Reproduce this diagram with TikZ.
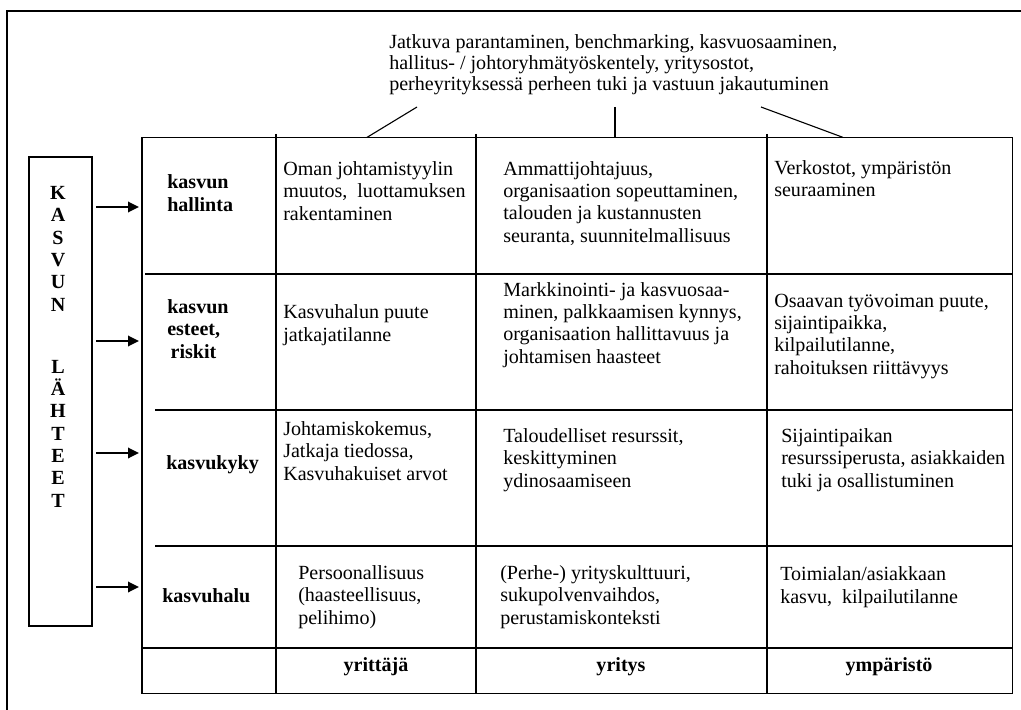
\documentclass[tikz,border=0pt]{standalone}
\usepackage{fontspec}
\setmainfont{Liberation Serif}
\usetikzlibrary{arrows.meta}

\begin{document}
\begin{tikzpicture}[
	x=0.254mm, y=-0.254mm,
	viiva/.style     = {line width=0.8pt, black},
	nuoli/.style     = {line width=1.8pt, -{Triangle[length=2.8mm, width=2.6mm]},
		shorten <=1mm, shorten >=0.6mm},
	lahde/.style     = {rectangle, draw, line width=0.8pt, minimum width=16mm,
		minimum height=119.1mm, inner sep=0},
	taulu/.style     = {rectangle, draw, line width=0.8pt, minimum width=221mm,
		minimum height=141mm, inner sep=0},
	kirjaimet/.style = {anchor=base, align=center, inner sep=0,
		font=\fontsize{14.5}{16.1}\selectfont\bfseries},
	huomio/.style    = {anchor=base west, align=left, inner sep=0,
		font=\fontsize{14.5}{15.2}\selectfont},
	solu/.style      = {anchor=base west, align=left, inner sep=0,
		font=\fontsize{14.5}{16.1}\selectfont},
	rivi/.style      = {solu, font=\fontsize{14.5}{16.1}\selectfont\bfseries},
	sarake/.style    = {anchor=base, inner sep=0, font=\fontsize{14.5}{16.1}\selectfont\bfseries}
	]
	\useasboundingbox (0,0) rectangle (1021,710);
	
	% ===================== Frame =====================
	\draw[viiva] (1021,11) -- (7,11) -- (7,710);
	
	% ===================== Kasvun lähteet =====================
	% (base of a node = baseline of its last line)
	\node[lahde] (lahteet) at (60.5,391.5) {};
	\node[kirjaimet] (sana1) at (58,311) {K\\A\\S\\V\\U\\N};
	\node[kirjaimet] (sana2) at (58,507) {L\\Ä\\H\\T\\E\\E\\T};
	
	% ===================== Table =====================
	\node[taulu] (taulu) at (577,415.5) {};
	\foreach \x in {276,476,767}
		\draw[viiva] (\x,134) -- (\x,693);
	\foreach \y/\alku in {274/145, 410/155, 546/155, 648/142}
		\draw[viiva] (\alku,\y) -- (1012,\y);
	
	\foreach \y in {207,341,453,587}
		\draw[nuoli] (lahteet.east |- 0,\y) -- (taulu.west |- 0,\y);
	
	% ===================== Note on top =====================
	\node[huomio] (huomio) at (389,91) {Jatkuva parantaminen, benchmarking, kasvuosaaminen,\\hallitus- / johtoryhmätyöskentely, yritysostot,\\perheyrityksessä perheen tuki ja vastuun jakautuminen};
	
	\coordinate (v1) at (417,107);
	\coordinate (v2) at (615,107);
	\coordinate (v3) at (761,107);
	\draw[viiva] (v1) -- (taulu.north -| 367,0);
	\draw[viiva] (v2) -- (taulu.north -| v2);
	\draw[viiva] (v3) -- (taulu.north -| 843,0);
	
	% ===================== Row 1: kasvun hallinta =====================
	\node[rivi] (r1)  at (167,211) {kasvun\\hallinta};
	\node[solu] (r1a) at (283,220) {Oman johtamistyylin\\muutos,\ \ luottamuksen\\rakentaminen};
	\node[solu] (r1b) at (503,242) {Ammattijohtajuus,\\organisaation sopeuttaminen,\\talouden ja kustannusten\\seuranta, suunnitelmallisuus};
	\node[solu] (r1c) at (774,197) {Verkostot, ympäristön\\seuraaminen};
	
	% ===================== Row 2: kasvun esteet =====================
	\node[rivi] (r2)  at (167,358) {kasvun\\esteet,\\\,riskit};
	\node[solu] (r2a) at (283,341) {Kasvuhalun puute\\jatkajatilanne};
	\node[solu] (r2b) at (503,363) {Markkinointi- ja kasvuosaa-\\minen, palkkaamisen kynnys,\\organisaation hallittavuus ja\\johtamisen haasteet};
	\node[solu] (r2c) at (774,374) {Osaavan työvoiman puute,\\sijaintipaikka,\\kilpailutilanne,\\rahoituksen riittävyys};
	
	% ===================== Row 3: kasvukyky =====================
	\node[rivi] (r3)  at (166,469) {kasvukyky};
	\node[solu] (r3a) at (283,480) {Johtamiskokemus,\\Jatkaja tiedossa,\\Kasvuhakuiset arvot};
	\node[solu] (r3b) at (503,487) {Taloudelliset resurssit,\\keskittyminen\\ydinosaamiseen};
	\node[solu] (r3c) at (781,487) {Sijaintipaikan\\resurssiperusta, asiakkaiden\\tuki ja osallistuminen};
	
	% ===================== Row 4: kasvuhalu =====================
	\node[rivi] (r4)  at (162,602) {kasvuhalu};
	\node[solu] (r4a) at (298,624) {Persoonallisuus\\(haasteellisuus,\\pelihimo)};
	\node[solu] (r4b) at (500,624) {(Perhe-) yrityskulttuuri,\\sukupolvenvaihdos,\\perustamiskonteksti};
	\node[solu] (r4c) at (780,603) {Toimialan/asiakkaan\\kasvu,\ \ kilpailutilanne};
	
	% ===================== Column heads =====================
	\node[sarake] (s1) at (376,671) {yrittäjä};
	\node[sarake] (s2) at (621,671) {yritys};
	\node[sarake] (s3) at (889,671) {ympäristö};
	
\end{tikzpicture}
\end{document}
